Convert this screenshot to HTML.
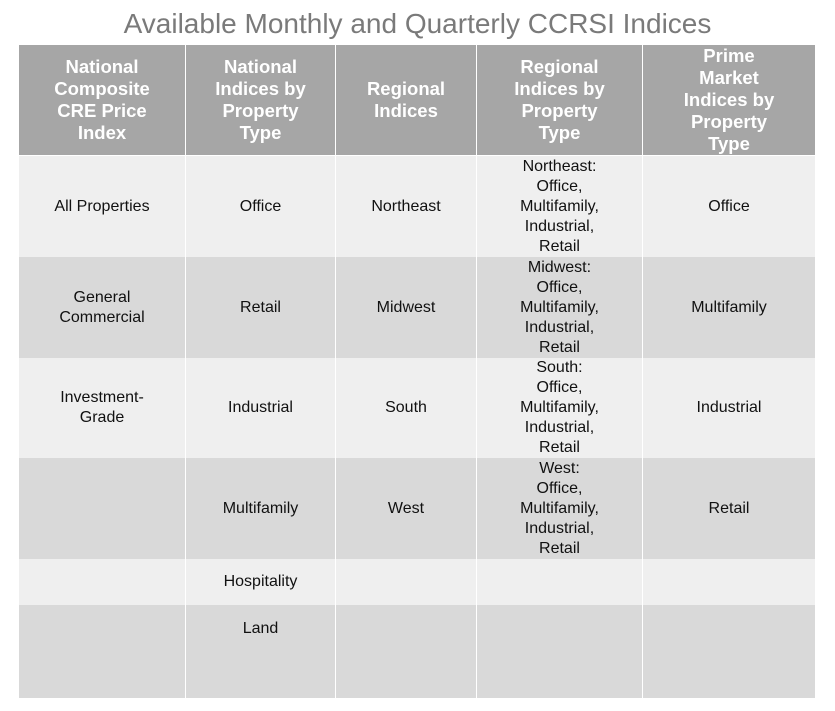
<!DOCTYPE html>
<html><head><meta charset="utf-8"><style>
body{margin:0;width:835px;height:711px;background:#fff;position:relative;font-family:"Liberation Sans",Arial,sans-serif;overflow:hidden}
.t{position:absolute;left:0;width:835px;top:8px;text-align:center;font-size:28px;color:#7a7a7a}
.c{position:absolute;display:flex;align-items:center;justify-content:center;text-align:center;box-sizing:border-box;font-size:16px;line-height:20px;color:#111;border-right:1px solid #fff}
.h{background:#a6a6a6;color:#fff;font-weight:bold;font-size:18.5px;line-height:22px;border-bottom:1px solid #fff}
.top{align-items:flex-start;padding-top:14px}
</style></head><body>
<div class="t">Available Monthly and Quarterly CCRSI Indices</div>
<div id="tbl"></div>
<script>
const cols=[19,186,336,477,643,816];
const rows=[45,156,257,358,458,559,605,698];
const head=["National<br>Composite<br>CRE Price<br>Index","National<br>Indices by<br>Property<br>Type","Regional<br>Indices","Regional<br>Indices by<br>Property<br>Type","Prime<br>Market<br>Indices by<br>Property<br>Type"];
const body=[
["All Properties","Office","Northeast","Northeast:<br>Office,<br>Multifamily,<br>Industrial,<br>Retail","Office"],
["General<br>Commercial","Retail","Midwest","Midwest:<br>Office,<br>Multifamily,<br>Industrial,<br>Retail","Multifamily"],
["Investment-<br>Grade","Industrial","South","South:<br>Office,<br>Multifamily,<br>Industrial,<br>Retail","Industrial"],
["","Multifamily","West","West:<br>Office,<br>Multifamily,<br>Industrial,<br>Retail","Retail"],
["","Hospitality","","",""],
["","Land","","",""]];
const bg=["#efefef","#d9d9d9"];
const tbl=document.getElementById('tbl');
function cell(r,c,html,cls,color){
 const d=document.createElement('div');
 
 
 d.className='c '+cls;
 d.style.left=cols[c]+'px';d.style.width=(cols[c+1]-cols[c])+'px';
 d.style.top=rows[r]+'px';d.style.height=(rows[r+1]-rows[r])+'px';
 if(color)d.style.background=color;
 d.innerHTML=html;tbl.appendChild(d);
}
head.forEach((h,c)=>cell(0,c,h,'h'));
body.forEach((row,i)=>row.forEach((t,c)=>cell(i+1,c,t,i===5?'top':'',bg[i%2])));
</script>
</body></html>
